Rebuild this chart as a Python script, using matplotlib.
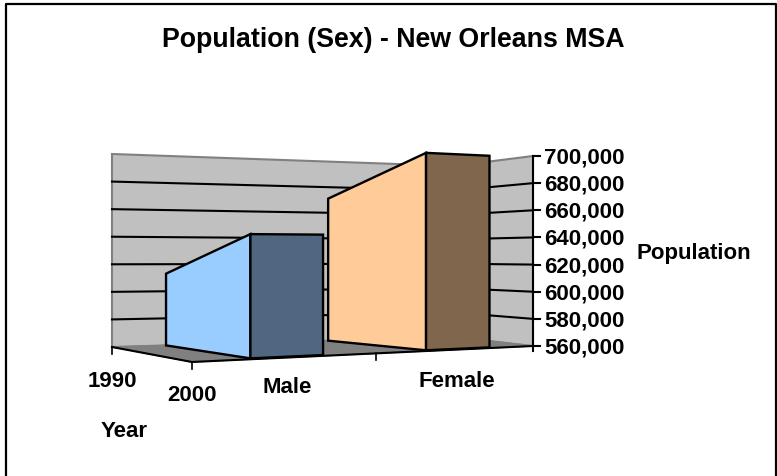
"""Plot 3D style area chart of population by sex."""

import matplotlib

matplotlib.use("Agg")
import matplotlib.pyplot as plt

plt.rcParams["font.family"] = ["Liberation Sans", "DejaVu Sans"]

sexes = ["Male", "Female"]
years = ["1990", "2000"]
male_values = [613000, 641000]
female_values = [671000, 699200]
y_ticks = [560000, 580000, 600000, 620000, 640000, 660000, 680000, 700000]
y_min = y_ticks[0]
y_max = y_ticks[-1]

# floor corners in pixels: (u, depth), depth 0 is the back
FLOOR = {
    (0, 0): (112, 348),
    (1, 0): (454, 338),
    (1, 1): (533, 347),
    (0, 1): (192, 363),
}
# wall height in pixels at the same corners
WALL = {(0, 0): 193, (1, 0): 171, (1, 1): 190, (0, 1): 222}

BAR_DEPTH = 0.95
# u of the left edge at the back, left and right edge at the front
male_edges = (0.158, 0.183, 0.396)
female_edges = (0.632, 0.698, 0.884)


def bilinear(table, u, d):
    """Blend the four corner values of a table."""
    return (
        table[(0, 0)] * (1 - u) * (1 - d)
        + table[(1, 0)] * u * (1 - d)
        + table[(1, 1)] * u * d
        + table[(0, 1)] * (1 - u) * d
    )


def project(u, d, value):
    """Map floor position and value to pixel position."""
    x = bilinear({k: v[0] for k, v in FLOOR.items()}, u, d)
    y = bilinear({k: v[1] for k, v in FLOOR.items()}, u, d)
    return x, y - (value - y_min) / (y_max - y_min) * bilinear(WALL, u, d)


def face(ax, points, color, edge="black", lw=1.7, zorder=5):
    """Fill a polygon given as (u, d, value) points."""
    xs, ys = zip(*[project(*p) for p in points])
    ax.fill(xs, ys, facecolor=color, edgecolor=edge, linewidth=lw, zorder=zorder)


def draw_area(ax, values, edges, light, dark):
    """Draw the side and end faces of one series."""
    back, left, right = edges
    face(
        ax,
        [
            (back, 0, y_min),
            (back, 0, values[0]),
            (left, BAR_DEPTH, values[1]),
            (left, BAR_DEPTH, y_min),
        ],
        light,
    )
    face(
        ax,
        [
            (left, BAR_DEPTH, y_min),
            (left, BAR_DEPTH, values[1]),
            (right, BAR_DEPTH, values[1]),
            (right, BAR_DEPTH, y_min),
        ],
        dark,
    )


fig = plt.figure(figsize=(7.77, 4.77), dpi=100)
ax = fig.add_axes([0, 0, 1, 1])
ax.set_xlim(0, 777)
ax.set_ylim(477, 0)
ax.axis("off")

# outer frame, open at the bottom
ax.plot([6, 6, 776, 776], [477, 5, 5, 477], color="black", lw=1.6)

# walls and floor
face(ax, [(0, 0, y_min), (0, 0, y_max), (1, 0, y_max), (1, 0, y_min)], "#C0C0C0", "#808080", 1.5, 1)
face(ax, [(1, 0, y_min), (1, 0, y_max), (1, 1, y_max), (1, 1, y_min)], "#C0C0C0", "#808080", 1.5, 1)
face(ax, [(0, 0, y_min), (1, 0, y_min), (1, 1, y_min), (0, 1, y_min)], "#808080", "#808080", 1.0, 2)

# gridlines on both walls
for tick in y_ticks[1:-1]:
    xs, ys = zip(project(0, 0, tick), project(1, 0, tick), project(1, 1, tick))
    ax.plot(xs, ys, color="black", lw=1.5, zorder=3)

# axis lines
xs, ys = zip(project(0, 0, y_min), project(0, 1, y_min), project(1, 1, y_min))
ax.plot(xs, ys, color="black", lw=1.5, zorder=4)
x0, y0 = project(1, 1, y_min)
x1, y1 = project(1, 1, y_max)
ax.plot([x0, x1], [y0 + 5, y1], color="black", lw=1.5, zorder=4)

draw_area(ax, male_values, male_edges, "#99CCFF", "#4F6780")
draw_area(ax, female_values, female_edges, "#FFCC99", "#80664D")

# value axis ticks and labels
for tick in y_ticks:
    x, y = project(1, 1, tick)
    ax.plot([x, x + 7], [y, y], color="black", lw=1.5, zorder=4)
    ax.text(x + 11, y + 1, f"{tick:,}", fontsize=16, fontweight="bold", va="center", ha="left")

# floor ticks
for u, d in [(0, 0), (0, 1), (0.54, 1)]:
    x, y = project(u, d, y_min)
    ax.plot([x, x], [y, y + 7], color="black", lw=1.2, zorder=4)

bold = {"fontsize": 16, "fontweight": "bold", "ha": "center", "va": "center"}
ax.text(112, 382, years[0], **bold)
ax.text(192, 396, years[1], **bold)
ax.text(287, 388, sexes[0], **bold)
ax.text(457, 382, sexes[1], **bold)
ax.text(124, 432, "Year", **bold)
ax.text(694, 254, "Population", **bold)
ax.text(393, 40, "Population (Sex) - New Orleans MSA", fontsize=19.3, fontweight="bold", ha="center", va="center")

plt.savefig("out.png", dpi=100)
